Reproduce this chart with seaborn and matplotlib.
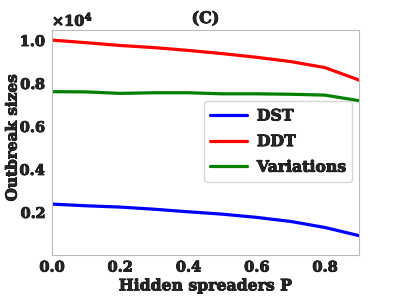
import numpy as np
import pandas as pd
import seaborn as sns
import matplotlib.pyplot as plt
import matplotlib.patheffects as pe

# hidden spreader probability
p = [0.0, 0.1, 0.2, 0.3, 0.4, 0.5, 0.6, 0.7, 0.8, 0.9]

# outbreak sizes
dst = [2370, 2290, 2230, 2130, 2010, 1900, 1750, 1560, 1280, 900]
ddt = [10000, 9880, 9750, 9650, 9520, 9370, 9200, 9000, 8720, 8140]
variations = [7600, 7590, 7520, 7550, 7550, 7500, 7500, 7480, 7440, 7180]

df = pd.DataFrame({"P": p * 3,
                   "size": dst + ddt + variations,
                   "model": ["DST"] * 10 + ["DDT"] * 10 + ["Variations"] * 10})

sns.set_style("whitegrid")
plt.rcParams['font.family'] = ['DejaVu Serif']
plt.rcParams['font.weight'] = 'bold'
plt.rcParams['mathtext.fontset'] = 'dejavuserif'
plt.rcParams['mathtext.default'] = 'bf'

fig, ax = plt.subplots(figsize=(3.99, 3.0), dpi=100)
sns.lineplot(data=df, x="P", y="size", hue="model",
             palette=["blue", "red", "green"], linewidth=2.3, ax=ax)
ax.grid(False)
for s in ax.spines.values():
    s.set_color('#bbbbbb')

ax.set_xlim(0, 0.9)
ax.set_ylim(0, 10470)
ax.set_xticks([0.0, 0.2, 0.4, 0.6, 0.8])
ax.set_yticks([2000, 4000, 6000, 8000, 10000])
ax.ticklabel_format(axis='y', style='sci', scilimits=(4, 4), useMathText=True)
ax.yaxis.get_offset_text().set_fontsize(10.5)
ax.tick_params(labelsize=10.5, length=0, pad=4)

ax.set_xlabel("Hidden spreaders P", fontsize=11.3, fontweight='bold', labelpad=2)
ax.set_ylabel("Outbreak sizes", fontsize=11, fontweight='bold')
ax.yaxis.set_label_coords(-0.105, 0.52)
ax.set_title("(C)", fontsize=11.5, fontweight='bold', pad=5)

leg = ax.legend(loc='center right', bbox_to_anchor=(0.977, 0.504),
                borderaxespad=0, prop={'size': 11.3, 'weight': 'bold'},
                handlelength=2.4, handletextpad=0.6, labelspacing=0.55,
                frameon=True)

# heavier text like the original
thick = [pe.withStroke(linewidth=0.6, foreground='black')]
texts = ax.get_xticklabels() + ax.get_yticklabels() + leg.get_texts()
texts += [ax.xaxis.label, ax.yaxis.label, ax.title, ax.yaxis.get_offset_text()]
for t in texts:
    t.set_fontweight('bold')
    t.set_path_effects(thick)

fig.subplots_adjust(left=0.13, right=0.9, top=0.9, bottom=0.15)
plt.savefig("out.png", dpi=100)
